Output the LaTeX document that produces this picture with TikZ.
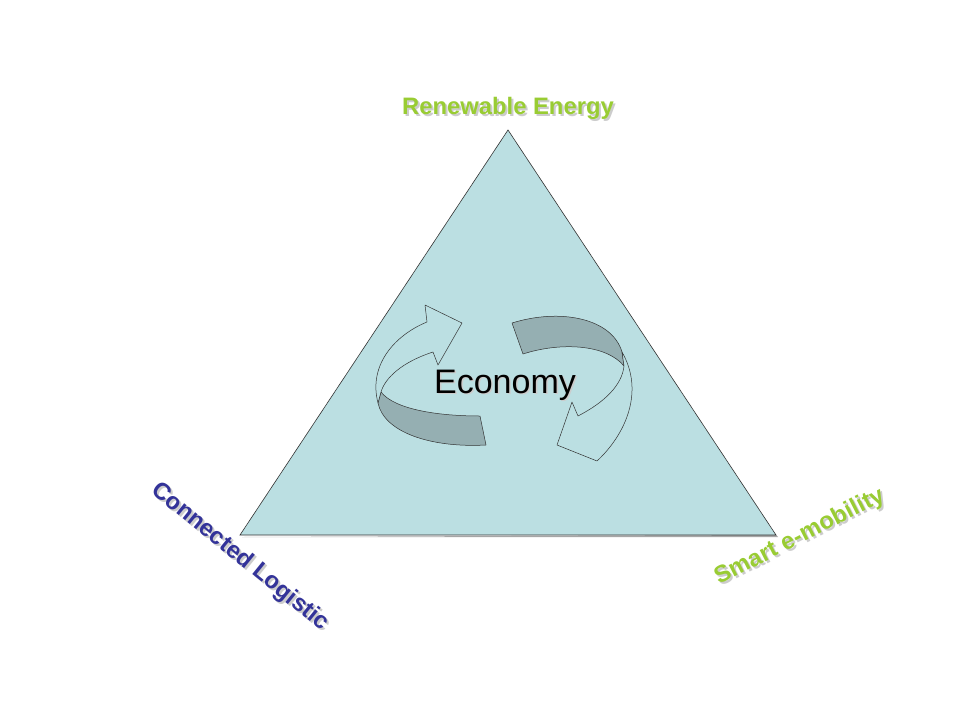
\documentclass[tikz,border=0pt]{standalone}
\usepackage{fontspec}
\setmainfont{Liberation Sans}
\begin{document}
\begin{tikzpicture}[x=1pt,y=-1pt,
  lbl/.style={font=\fontsize{23.8}{28}\selectfont\bfseries,inner sep=0pt},
  band/.style={fill=arrowdark,draw=black!80,line width=0.5pt,line join=round},
  face/.style={fill=tri,draw=black!80,line width=0.5pt,line join=round}]
\definecolor{tri}{HTML}{BBDFE2}
\definecolor{arrowdark}{HTML}{95AFB2}
\definecolor{grn}{HTML}{99CC33}
\definecolor{blu}{HTML}{333399}
\useasboundingbox[fill=white] (0,0) rectangle (960,720);
\coordinate (A) at (508,130);
\coordinate (B) at (240,535);
\coordinate (C) at (776,535);
\fill[black!35] (242,537) -- (778,537) -- (776,535) -- cycle;
\draw[fill=tri,draw=black!80,line width=0.6pt] (A) -- (B) -- (C) -- cycle;
% left arrow
\path[band] (381,392) .. controls (395,410) and (440,416) .. (480,416) -- (486,445) .. controls (430,448) and (384,432) .. (378,403) -- cycle;
\path[face] (378,403) .. controls (368,365) and (395,335) .. (427,322) -- (425,305) -- (462,323) -- (438,365) -- (433,352) .. controls (402,362) and (385,378) .. (381,392) -- cycle;
% right arrow
\path[band] (512,323) .. controls (560,308) and (612,318) .. (622,352) -- (624,366) .. controls (606,344) and (560,342) .. (523,354) -- cycle;
\path[face] (622,352) .. controls (645,392) and (625,435) .. (597,461) -- (557,445) -- (572,402) -- (578,416) .. controls (605,402) and (622,385) .. (624,366) -- cycle;
\node[font=\fontsize{34}{38}\selectfont,text=black!20] at (506.5,386.5) {Economy};
\node (eco) [font=\fontsize{34}{38}\selectfont] at (505,385) {Economy};
% labels
\node[lbl,text=black!20] at (510,110) {Renewable Energy};
\node (re) [lbl,text=grn] at (508,108) {Renewable Energy};
\node[lbl,text=black!20,rotate=-39] at (242,559) {Connected Logistic};
\node (cl) [lbl,text=blu,rotate=-39] at (240,557) {Connected Logistic};
\node[lbl,text=black!20,rotate=27] at (802,539) {Smart e-mobility};
\node (sm) [lbl,text=grn,rotate=27] at (800,537) {Smart e-mobility};
\end{tikzpicture}
\end{document}
